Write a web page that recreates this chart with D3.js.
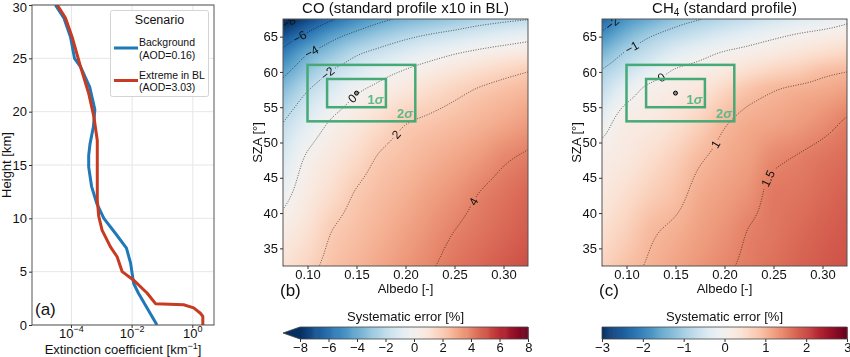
<!DOCTYPE html>
<html><head><meta charset="utf-8">
<script src="https://cdn.jsdelivr.net/npm/d3@7"></script>
<style>body{margin:0;background:#fff}svg{display:block}text{font-family:"Liberation Sans",Arial,Helvetica,sans-serif;fill:#111}</style>
</head><body><svg id="c" width="850" height="357"></svg>
<script>
// ---------------- DATA ----------------
// Panel (a): extinction profiles
const heightBackground = [30, 28.8, 27, 25, 24.2, 22.3, 20.2, 18.6, 17, 15.9, 14.8, 13, 11.4, 10, 8.6, 7.2, 5.8, 3.9, 3, 0];
const extBackground    = [2.95e-5, 5.6e-5, 9.3e-5, 1.26e-4, 2.0e-4, 4.0e-4, 5.9e-4, 5.3e-4, 4.1e-4, 3.7e-4, 3.7e-4, 4.6e-4, 6.8e-4, 1.17e-3, 2.8e-3, 6.5e-3, 8.9e-3, 1.12e-2, 1.6e-2, 6.6e-2];
const heightExtreme = [30, 28.8, 27, 24.2, 21.7, 19.5, 17.3, 11.7, 10.2, 8.9, 7.3, 6.4, 5, 4.2, 3, 2, 1.9, 1.6, 1.1, 0.8, 0];
const extExtreme    = [3.4e-5, 6.3e-5, 1.05e-4, 2.0e-4, 3.7e-4, 5.5e-4, 7.1e-4, 7.1e-4, 7.9e-4, 1.02e-3, 1.95e-3, 3.2e-3, 4.7e-3, 1.12e-2, 3.1e-2, 5.9e-2, 0.5, 1.07, 1.78, 2.14, 2.14];
const seriesNames = ["Background", "Extreme in BL"];
const seriesAOD = ["(AOD=0.16)", "(AOD=3.03)"];
const heightTicks = [0, 5, 10, 15, 20, 25, 30];
const extTicks = [1e-4, 1e-2, 1];
const extTickExp = ["\u22124", "\u22122", "0"];

// Panels (b),(c): systematic error grid (rows = SZA, columns = albedo)
const albedoGrid = [0.075, 0.10, 0.125, 0.15, 0.175, 0.20, 0.225, 0.25, 0.275, 0.30, 0.325];
const szaGrid = [32.5, 37.5, 42.5, 47.5, 52.5, 57.5, 60, 62.5, 65, 67.5];
const coError = [
  [1.1, 1.7, 2.3, 2.7, 3.1, 3.5, 3.9, 4.3, 4.6, 4.9, 5.2],
  [0.5, 1.15, 2.0, 2.4, 2.8, 3.2, 3.6, 4.0, 4.3, 4.6, 4.9],
  [-0.34, 0.65, 1.39, 2.1, 2.5, 2.85, 3.25, 3.6, 4.03, 4.35, 4.65],
  [-1.14, 0.19, 0.85, 1.5, 2.15, 2.45, 2.8, 3.1, 3.45, 3.9, 4.2],
  [-1.94, -0.77, 0.2, 0.8, 1.45, 2.0, 2.25, 2.5, 2.78, 3.08, 3.42],
  [-3.44, -2.08, -1.11, -0.19, 0.35, 0.85, 1.3, 1.7, 2.07, 2.35, 2.6],
  [-4.33, -3.04, -1.9, -1.15, -0.4, 0.13, 0.6, 1.0, 1.35, 1.7, 2.0],
  [-5.52, -4.0, -3.05, -2.1, -1.5, -0.95, -0.45, 0.0, 0.35, 0.65, 0.9],
  [-6.91, -5.6, -4.36, -3.5, -2.8, -2.24, -1.79, -1.43, -1.03, -0.71, -0.4],
  [-8.6, -7.3, -6.15, -5.1, -4.3, -3.76, -3.4, -3.0, -2.6, -2.3, -2.06]
];
const ch4Error = [
  [0.65, 0.88, 1.05, 1.19, 1.32, 1.45, 1.56, 1.66, 1.76, 1.85, 1.93],
  [0.46, 0.69, 0.95, 1.07, 1.22, 1.35, 1.51, 1.6, 1.7, 1.79, 1.87],
  [0.28, 0.5, 0.72, 0.89, 1.12, 1.24, 1.37, 1.58, 1.62, 1.71, 1.8],
  [0.17, 0.3, 0.5, 0.72, 0.97, 1.12, 1.24, 1.45, 1.53, 1.62, 1.7],
  [-0.15, 0.2, 0.27, 0.45, 0.7, 0.98, 1.12, 1.19, 1.28, 1.4, 1.56],
  [-0.72, -0.2, 0.1, 0.22, 0.35, 0.6, 0.85, 0.98, 1.06, 1.12, 1.21],
  [-0.95, -0.6, -0.23, 0.05, 0.16, 0.3, 0.5, 0.65, 0.76, 0.92, 1.0],
  [-1.36, -0.92, -0.62, -0.3, -0.11, 0.06, 0.17, 0.29, 0.4, 0.52, 0.63],
  [-1.82, -1.35, -1.0, -0.76, -0.56, -0.37, -0.2, -0.06, 0.07, 0.17, 0.26],
  [-2.4, -1.8, -1.5, -1.2, -1.02, -0.86, -0.7, -0.55, -0.4, -0.28, -0.1]
];
const coLevels = [-8, -6, -4, -2, 0, 2, 4];
const ch4Levels = [-2, -1, 0, 1, 1.5];
const albedoTicks = [0.10, 0.15, 0.20, 0.25, 0.30];
const szaTicks = [35, 40, 45, 50, 55, 60, 65];
const coBarTicks = [-8, -6, -4, -2, 0, 2, 4, 6, 8];
const ch4BarTicks = [-3, -2, -1, 0, 1, 2, 3];
// a priori point and uncertainty boxes (albedo, SZA)
const priorPoint = [0.15, 57];
const box1Albedo = [0.12, 0.18], box1Sza = [55, 59];
const box2Albedo = [0.10, 0.21], box2Sza = [53, 61];

// ---------------- HELPERS ----------------
function monoInterp(xs, ys){
  const n=xs.length, d=new Array(n-1), m=new Array(n);
  for(let i=0;i<n-1;i++) d[i]=(ys[i+1]-ys[i])/(xs[i+1]-xs[i]);
  m[0]=d[0]; m[n-1]=d[n-2];
  for(let i=1;i<n-1;i++){
    if(d[i-1]*d[i]<=0) m[i]=0;
    else { const h0=xs[i]-xs[i-1], h1=xs[i+1]-xs[i], w1=2*h1+h0, w2=h1+2*h0; m[i]=(w1+w2)/(w1/d[i-1]+w2/d[i]); }
  }
  return function(x){
    let i=0; while(i<n-2 && x>xs[i+1]) i++;
    const h=xs[i+1]-xs[i], t=(x-xs[i])/h, t2=t*t, t3=t2*t;
    return (2*t3-3*t2+1)*ys[i]+(t3-2*t2+t)*h*m[i]+(-2*t3+3*t2)*ys[i+1]+(t3-t2)*h*m[i+1];
  };
}
function linesFromGeom(geom, nx, ny){
  const out=[], eps=1e-6;
  const onB=(p,q)=>(p[0]<=eps&&q[0]<=eps)||(p[0]>=nx-eps&&q[0]>=nx-eps)||(p[1]<=eps&&q[1]<=eps)||(p[1]>=ny-eps&&q[1]>=ny-eps);
  for(const poly of geom.coordinates) for(const ring of poly){
    const n=ring.length-1;
    let start=-1;
    for(let k=0;k<n;k++){ if(onB(ring[k],ring[k+1])){start=k+1;break;} }
    if(start<0){ out.push(ring.slice()); continue; }
    let cur=[];
    for(let s=0;s<n;s++){
      const k=(start+s)%n, p=ring[k], q=ring[(k+1)%n];
      if(onB(p,q)){ if(cur.length>1) out.push(cur); cur=[]; }
      else { if(cur.length===0) cur.push(p); cur.push(q); }
    }
    if(cur.length>1) out.push(cur);
  }
  return out;
}
const svg=d3.select("#c");
const defs=svg.append("defs");
const FS=13;
function styleAxis(g){
  g.select(".domain").remove();
  g.selectAll(".tick line").attr("stroke","#333");
  g.selectAll(".tick text").attr("font-size",FS).attr("fill","#111").attr("font-family",'"Liberation Sans",Arial,sans-serif');
}
const minus = s => String(s).replace("-","\u2212");

// ---------------- PANEL (a) ----------------
(function(){
  const x0=32,x1=214,y0=5,y1=325;
  const x=d3.scaleLog().domain([5e-6,5]).range([x0,x1]);
  const y=d3.scaleLinear().domain([0,30]).range([y1,y0]);
  const g=svg.append("g");
  defs.append("clipPath").attr("id","clipA").append("rect").attr("x",x0).attr("y",y0).attr("width",x1-x0).attr("height",y1-y0);
  g.selectAll(".gx").data(extTicks).join("line").attr("x1",d=>x(d)).attr("x2",d=>x(d)).attr("y1",y0).attr("y2",y1).attr("stroke","#e6e6e6");
  g.selectAll(".gy").data(heightTicks).join("line").attr("y1",d=>y(d)).attr("y2",d=>y(d)).attr("x1",x0).attr("x2",x1).attr("stroke","#e6e6e6");
  const line=d3.line().x(d=>x(d[0])).y(d=>y(d[1]));
  const lg=g.append("g").attr("clip-path","url(#clipA)");
  lg.append("path").attr("d",line(extBackground.map((v,i)=>[v,heightBackground[i]]))).attr("fill","none").attr("stroke","#1f78b8").attr("stroke-width",3).attr("stroke-linejoin","round");
  lg.append("path").attr("d",line(extExtreme.map((v,i)=>[v,heightExtreme[i]]))).attr("fill","none").attr("stroke","#c63b22").attr("stroke-width",3).attr("stroke-linejoin","round");
  g.append("rect").attr("x",x0).attr("y",y0).attr("width",x1-x0).attr("height",y1-y0).attr("fill","none").attr("stroke","#555");
  const ya=g.append("g").attr("transform",`translate(${x0},0)`).call(d3.axisLeft(y).tickValues(heightTicks).tickSize(3).tickPadding(2));
  styleAxis(ya);
  ya.selectAll(".tick text").filter(d=>d===30).attr("dy","0.5em");
  g.selectAll(".xt").data(extTicks).join("line").attr("x1",d=>x(d)).attr("x2",d=>x(d)).attr("y1",y1).attr("y2",y1+3).attr("stroke","#333");
  const xt=g.selectAll(".xtl").data(extTicks).join("text").attr("x",d=>x(d)).attr("y",338).attr("text-anchor","middle").attr("font-size",FS);
  xt.append("tspan").text("10");
  xt.append("tspan").attr("dy",-6).attr("font-size",9).text((d,i)=>extTickExp[i]);
  const xl=g.append("text").attr("x",(x0+x1)/2).attr("y",354).attr("text-anchor","middle").attr("font-size",FS);
  xl.append("tspan").text("Extinction coefficient [km");
  xl.append("tspan").attr("dy",-5).attr("font-size",9).text("\u22121");
  xl.append("tspan").attr("dy",5).text("]");
  g.append("text").attr("transform","translate(11,165) rotate(-90)").attr("text-anchor","middle").attr("font-size",FS).text("Height [km]");
  g.append("text").attr("x",35).attr("y",315).attr("font-size",17).text("(a)");
  // legend
  const L=g.append("g");
  L.append("rect").attr("x",110.5).attr("y",10.5).attr("width",98).attr("height",86).attr("rx",2).attr("fill","#fff").attr("stroke","#d4d4d4");
  L.append("text").attr("x",159.5).attr("y",24).attr("text-anchor","middle").attr("font-size",12.5).text("Scenario");
  const cols=["#1f78b8","#c63b22"], ly=[48,80.5];
  seriesNames.forEach((nm,i)=>{
    L.append("line").attr("x1",114).attr("x2",138).attr("y1",ly[i]).attr("y2",ly[i]).attr("stroke",cols[i]).attr("stroke-width",3);
    L.append("text").attr("x",139).attr("y",ly[i]-2).attr("font-size",10.5).text(nm);
    L.append("text").attr("x",139).attr("y",ly[i]+10.5).attr("font-size",10.5).text(seriesAOD[i]);
  });
})();

// ---------------- PANELS (b),(c) ----------------
function drawPanel(o){
  const {x0,x1,y0,y1,table,domain,levels,labels,id,letter,barTicks,extendMin,barX0}=o;
  const xs=d3.scaleLinear().domain([0.075,0.325]).range([x0,x1]);
  const ys=d3.scaleLinear().domain([32.5,67.5]).range([y1,y0]);
  const nx=x1-x0, ny=y1-y0;
  const color=d3.scaleSequential(t=>d3.interpolateRdBu(1-t)).domain(domain).clamp(true);
  const rowF=table.map(r=>monoInterp(albedoGrid,r));
  const vals=new Array(nx*ny);
  for(let i=0;i<nx;i++){
    const a=xs.invert(x0+i+0.5);
    const col=rowF.map(f=>f(a));
    const gcol=monoInterp(szaGrid,col);
    for(let j=0;j<ny;j++) vals[j*nx+i]=gcol(ys.invert(y0+j+0.5));
  }
  const cv=document.createElement("canvas"); cv.width=nx; cv.height=ny;
  const ctx=cv.getContext("2d"); const img=ctx.createImageData(nx,ny);
  for(let k=0;k<vals.length;k++){ const c=d3.rgb(color(vals[k])); img.data[4*k]=c.r; img.data[4*k+1]=c.g; img.data[4*k+2]=c.b; img.data[4*k+3]=255; }
  ctx.putImageData(img,0,0);
  const g=svg.append("g");
  g.append("image").attr("x",x0).attr("y",y0).attr("width",nx).attr("height",ny).attr("preserveAspectRatio","none").attr("href",cv.toDataURL());
  defs.append("clipPath").attr("id","clip"+id).append("rect").attr("x",x0).attr("y",y0).attr("width",nx).attr("height",ny);
  // contours
  const conts=d3.contours().size([nx,ny]).thresholds(levels)(vals);
  const entries=conts.map(c=>({level:c.value,polys:linesFromGeom(c,nx,ny).map(pl=>pl.map(p=>[x0+p[0],y0+p[1]]))}));
  const mask=defs.append("mask").attr("id","mask"+id).attr("maskUnits","userSpaceOnUse").attr("x",0).attr("y",0).attr("width",850).attr("height",357);
  mask.append("rect").attr("x",0).attr("y",0).attr("width",850).attr("height",357).attr("fill","#fff");
  const cg=g.append("g").attr("clip-path",`url(#clip${id})`);
  const lineG=cg.append("g").attr("mask",`url(#mask${id})`);
  const lf=d3.line();
  entries.forEach(e=>e.polys.forEach(pl=>{
    lineG.append("path").attr("d",lf(pl)).attr("fill","none").attr("stroke","#000").attr("stroke-width",0.8).attr("stroke-dasharray","1 1.5").attr("opacity",0.8);
  }));
  labels.forEach(L=>{
    const e=entries.find(q=>q.level===L.lv); if(!e) return;
    const tx=xs(L.a), ty=ys(L.s);
    let best=null,bd=1e12;
    e.polys.forEach(pl=>pl.forEach((p,k)=>{const dd=(p[0]-tx)**2+(p[1]-ty)**2; if(dd<bd){bd=dd;best={pl,k};}}));
    if(!best) return;
    const pl=best.pl,k=best.k,p0=pl[Math.max(0,k-4)],p1=pl[Math.min(pl.length-1,k+4)];
    let ang=Math.atan2(p1[1]-p0[1],p1[0]-p0[0])*180/Math.PI; if(ang>90)ang-=180; if(ang<-90)ang+=180;
    const [px,py]=pl[k];
    const txt=minus(L.lv), w=txt.length*6.6+3;
    mask.append("rect").attr("x",-w/2).attr("y",-6).attr("width",w).attr("height",12).attr("fill","#000").attr("transform",`translate(${px},${py}) rotate(${ang})`);
    cg.append("text").attr("transform",`translate(${px},${py}) rotate(${ang})`).attr("text-anchor","middle").attr("dy","0.35em").attr("font-size",12).text(txt);
  });
  // uncertainty boxes
  const green="#46a978";
  g.append("rect").attr("x",xs(box2Albedo[0])).attr("y",ys(box2Sza[1])).attr("width",xs(box2Albedo[1])-xs(box2Albedo[0])).attr("height",ys(box2Sza[0])-ys(box2Sza[1])).attr("fill","none").attr("stroke",green).attr("stroke-width",2.5);
  g.append("rect").attr("x",xs(box1Albedo[0])).attr("y",ys(box1Sza[1])).attr("width",xs(box1Albedo[1])-xs(box1Albedo[0])).attr("height",ys(box1Sza[0])-ys(box1Sza[1])).attr("fill","none").attr("stroke",green).attr("stroke-width",2.5);
  const s1=g.append("text").attr("x",xs(box1Albedo[1])-2.5).attr("y",ys(box1Sza[0])-3).attr("text-anchor","end").attr("font-size",13).attr("font-weight","bold").style("fill","#5bb98a");
  s1.append("tspan").text("1"); s1.append("tspan").attr("font-style","italic").text("\u03c3");
  const s2=g.append("text").attr("x",xs(box2Albedo[1])-2.5).attr("y",ys(box2Sza[0])-3).attr("text-anchor","end").attr("font-size",13).attr("font-weight","bold").style("fill","#5bb98a");
  s2.append("tspan").text("2"); s2.append("tspan").attr("font-style","italic").text("\u03c3");
  g.append("circle").attr("cx",xs(priorPoint[0])).attr("cy",ys(priorPoint[1])).attr("r",2).attr("fill","#888").attr("stroke","#000").attr("stroke-width",1);
  // frame & axes
  g.append("rect").attr("x",x0).attr("y",y0).attr("width",nx).attr("height",ny).attr("fill","none").attr("stroke","#555");
  const xa=g.append("g").attr("transform",`translate(0,${y1})`).call(d3.axisBottom(xs).tickValues(albedoTicks).tickFormat(d3.format(".2f")).tickSize(3).tickPadding(1)); styleAxis(xa);
  const ya=g.append("g").attr("transform",`translate(${x0},0)`).call(d3.axisLeft(ys).tickValues(szaTicks).tickSize(3).tickPadding(2)); styleAxis(ya);
  g.append("text").attr("x",(x0+x1)/2).attr("y",293).attr("text-anchor","middle").attr("font-size",FS).text("Albedo [-]");
  g.append("text").attr("transform",`translate(${x0-21},${(y0+y1)/2}) rotate(-90)`).attr("text-anchor","middle").attr("font-size",FS).text("SZA [\u00b0]");
  g.append("text").attr("x",x0-3).attr("y",296).attr("font-size",17).text(letter);
  // colorbar
  const by0=327, by1=339;
  const cb=d3.scaleLinear().domain(domain).range([barX0,x1]);
  const steps=d3.range(domain[0],domain[1],(domain[1]-domain[0])/240);
  g.selectAll(".cb"+id).data(steps).join("rect").attr("x",d=>cb(d)).attr("y",by0).attr("width",(x1-barX0)/240+0.6).attr("height",by1-by0).attr("fill",d=>color(d+(domain[1]-domain[0])/480));
  let outline;
  if(extendMin){
    g.append("path").attr("d",`M${barX0},${by0}L${x0},${(by0+by1)/2}L${barX0},${by1}Z`).attr("fill",d3.interpolateRdBu(1));
    outline=`M${barX0},${by0}L${x1},${by0}L${x1},${by1}L${barX0},${by1}L${x0},${(by0+by1)/2}Z`;
  } else outline=`M${barX0},${by0}L${x1},${by0}L${x1},${by1}L${barX0},${by1}Z`;
  g.append("path").attr("d",outline).attr("fill","none").attr("stroke","#444").attr("stroke-width",0.8);
  const ca=g.append("g").attr("transform",`translate(0,${by1})`).call(d3.axisBottom(cb).tickValues(barTicks).tickFormat(d=>minus(d3.format("d")(d))).tickSize(3).tickPadding(1)); styleAxis(ca);
  ca.selectAll(".tick text").filter(d=>d===domain[1]).attr("text-anchor","end").attr("dx","0.3em");
  g.append("text").attr("x",(x0+x1)/2).attr("y",321).attr("text-anchor","middle").attr("font-size",FS).text("Systematic error [%]");
  return g;
}
drawPanel({x0:283,x1:528,y0:19,y1:266,table:coError,domain:[-8,8],levels:coLevels,id:"b",letter:"(b)",barTicks:coBarTicks,extendMin:true,barX0:300,
  labels:[{lv:-8,a:0.079,s:67.4},{lv:-6,a:0.092,s:65.0},{lv:-4,a:0.104,s:62.9},{lv:-2,a:0.12,s:60.0},{lv:0,a:0.144,s:56.4},{lv:2,a:0.189,s:51.3},{lv:4,a:0.267,s:41.8}]});
drawPanel({x0:602,x1:847,y0:19,y1:266,table:ch4Error,domain:[-3,3],levels:ch4Levels,id:"c",letter:"(c)",barTicks:ch4BarTicks,extendMin:false,barX0:602,
  labels:[{lv:-2,a:0.086,s:66.7},{lv:-1,a:0.105,s:63.6},{lv:0,a:0.134,s:59.6},{lv:1,a:0.186,s:50.2},{lv:1.5,a:0.247,s:44.7}]});
// titles
svg.append("text").attr("x",405.5).attr("y",13).attr("text-anchor","middle").attr("font-size",15).text("CO (standard profile x10 in BL)");
const t2=svg.append("text").attr("x",724.5).attr("y",13).attr("text-anchor","middle").attr("font-size",15);
t2.append("tspan").text("CH");
t2.append("tspan").attr("dy",3).attr("font-size",10).text("4");
t2.append("tspan").attr("dy",-3).text(" (standard profile)");
</script></body></html>
